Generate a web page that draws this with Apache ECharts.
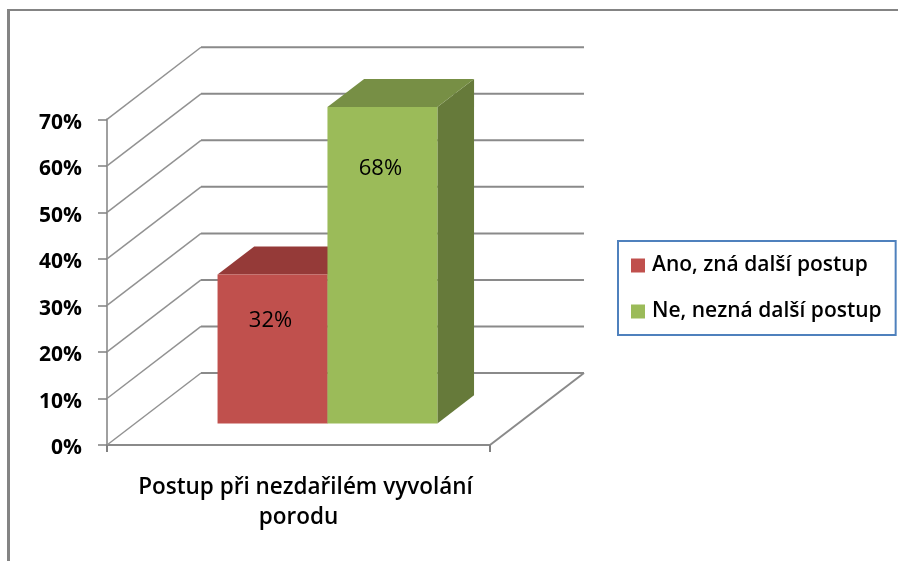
<!DOCTYPE html>
<html>
<head>
<meta charset="utf-8">
<style>html,body{margin:0;padding:0;background:#fff}#chart{width:898px;height:561px}</style>
<script src="https://cdn.jsdelivr.net/npm/echarts@6/dist/echarts.min.js"></script>
</head>
<body>
<div id="chart"></div>
<script>
// Survey result: what staff do after a failed induction of labour
const categories = ['Postup při nezdařilém vyvolání\nporodu'];
const seriesNames = ['Ano, zná další postup', 'Ne, nezná další postup'];
const seriesValues = [0.32, 0.68];
const valueTicks = [0, 0.1, 0.2, 0.3, 0.4, 0.5, 0.6, 0.7];

// Colours of each bar: front, top and side faces
const barFaces = [
  { front: '#C0504D', top: '#953A38', side: '#7F3230' },
  { front: '#9BBB59', top: '#778F45', side: '#667A3A' }
];

// Oblique projection: how far the rear wall is shifted from the front plane
const WALL_SHIFT_X = 0.2454;   // in category bands
const WALL_SHIFT_Y = 0.1548;   // in axis units
// Bars sit between these depths (0 = front edge of floor, 1 = rear wall)
const BAR_NEAR = 0.30;
const BAR_DEPTH = 0.39;
// Bar layout inside the band
const BAR_START = 0.215;
const BAR_WIDTH = 0.287;
// Label drop below each bar's top edge, in pixels
const LABEL_DROP = [46, 62];

const FONT = '"Open Sans", Lato, sans-serif';

function projector(api) {
  const band = api.size([1, 0])[0];
  const left = api.coord([0, 0])[0] - band / 2;
  const rise = api.coord([0, 0])[1] - api.coord([0, WALL_SHIFT_Y])[1];
  return function (xFrac, value, depth) {
    return [
      left + band * (xFrac + depth * WALL_SHIFT_X),
      api.coord([0, value])[1] - depth * rise
    ];
  };
}

function renderWallLine(params, api) {
  const v = api.value(1);
  const at = projector(api);
  const back = [at(0, v, 1), at(1, v, 1)];
  const children = [
    { type: 'polyline', shape: { points: [at(0, v, 0), back[0]] },
      style: { fill: 'none', stroke: '#929292', lineWidth: 1.5 } },
    { type: 'polyline', shape: { points: back },
      style: { fill: 'none', stroke: '#8A8A8A', lineWidth: 2 } }
  ];
  if (v === 0) {
    // right-hand edge of the floor
    children.push({ type: 'polyline', shape: { points: [back[1], at(1, 0, 0)] },
      style: { fill: 'none', stroke: '#8A8A8A', lineWidth: 2 } });
  }
  return { type: 'group', children: children };
}

function renderBar(index) {
  return function (params, api) {
    const v = api.value(1);
    const at = projector(api);
    const x0 = BAR_START + BAR_WIDTH * index;
    const x1 = x0 + BAR_WIDTH;
    const near = BAR_NEAR;
    const far = BAR_NEAR + BAR_DEPTH;
    const c = barFaces[index];
    // the bar's top and foot shifted to the bar's near plane
    const frontTL = at(x0, v, near);
    const frontBR = at(x1, 0, near);
    return {
      type: 'group',
      children: [
        { type: 'polygon', shape: { points: [at(x1, v, near), at(x1, v, far), at(x1, 0, far), at(x1, 0, near)] },
          style: { fill: c.side } },
        { type: 'polygon', shape: { points: [at(x0, v, near), at(x0, v, far), at(x1, v, far), at(x1, v, near)] },
          style: { fill: c.top } },
        { type: 'rect', shape: { x: frontTL[0], y: frontTL[1], width: frontBR[0] - frontTL[0], height: frontBR[1] - frontTL[1] },
          style: { fill: c.front } },
        { type: 'text', x: (frontTL[0] + frontBR[0]) / 2 - 2, y: frontTL[1] + LABEL_DROP[index],
          style: { text: Math.round(v * 100) + '%', fill: '#000', font: '22px ' + FONT, align: 'center', verticalAlign: 'middle' } }
      ]
    };
  };
}

const chart = echarts.init(document.getElementById('chart'));
chart.setOption({
  animation: false,
  backgroundColor: '#fff',
  graphic: [
    { type: 'line', shape: { x1: 8, y1: 10, x2: 898, y2: 10 }, style: { stroke: '#848484', lineWidth: 2 } },
    { type: 'line', shape: { x1: 8.5, y1: 9, x2: 8.5, y2: 561 }, style: { stroke: '#848484', lineWidth: 3 } }
  ],
  grid: { left: 107, top: 119.3, width: 383, height: 325.7 },
  xAxis: {
    type: 'category',
    data: categories,
    axisLine: { lineStyle: { color: '#8A8A8A', width: 2 } },
    axisTick: { show: true, length: 7, lineStyle: { color: '#808080', width: 2 } },
    axisLabel: {
      margin: 27,
      interval: 0,
      // the wrapped first line sits a little to the right of the second
      formatter: function (name) {
        const lines = name.split('\n');
        return '{first|' + lines[0] + '}\n{second|' + lines[1] + '}';
      },
      rich: {
        first: { color: '#000', fontFamily: FONT, fontSize: 22.5, fontWeight: 600, lineHeight: 31, padding: [0, 0, 0, 14] },
        second: { color: '#000', fontFamily: FONT, fontSize: 22.5, fontWeight: 600, lineHeight: 30 }
      }
    }
  },
  yAxis: {
    type: 'value',
    min: 0,
    max: 0.7,
    interval: 0.1,
    axisLine: { show: true, lineStyle: { color: '#A0A0A0', width: 2 } },
    axisTick: { show: true, length: 9, lineStyle: { color: '#808080', width: 1.5 } },
    splitLine: { show: false },
    axisLabel: { color: '#000', fontFamily: FONT, fontSize: 21, fontWeight: 'bold', margin: 25,
      verticalAlign: 'top', lineHeight: 7,
      formatter: function (v) { return Math.round(v * 100) + '%'; } }
  },
  legend: {
    data: seriesNames,
    orient: 'vertical',
    left: 618,
    top: 241,
    padding: [14, 14, 13, 13],
    itemWidth: 14,
    itemHeight: 14,
    itemGap: 25,
    icon: 'rect',
    backgroundColor: '#fff',
    borderColor: '#4F81BD',
    borderWidth: 2,
    selectedMode: false,
    textStyle: { color: '#000', fontFamily: FONT, fontSize: 21, fontWeight: 600, padding: [0, 0, 0, 2] }
  },
  series: [
    { type: 'custom', name: 'walls', z: 1, renderItem: renderWallLine, silent: true,
      data: valueTicks.map(function (t) { return [0, t]; }) },
    { type: 'custom', name: seriesNames[0], z: 2, renderItem: renderBar(0), itemStyle: { color: barFaces[0].front },
      data: [[0, seriesValues[0]]] },
    { type: 'custom', name: seriesNames[1], z: 3, renderItem: renderBar(1), itemStyle: { color: barFaces[1].front },
      data: [[0, seriesValues[1]]] }
  ]
});
</script>
</body>
</html>
